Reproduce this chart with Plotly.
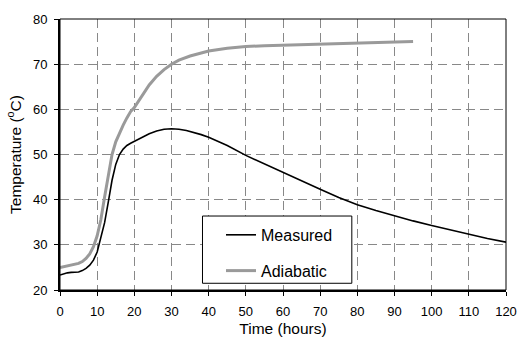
import plotly.graph_objects as go

# Measured concrete temperature (°C) against elapsed time (hours)
hours_measured = [0, 1, 2, 3, 4, 5, 6, 7, 8, 9, 10, 11, 12, 13, 14, 15, 16, 17, 18, 19, 20,
                  22, 24, 26, 28, 30, 32, 34, 36, 38, 40, 45, 50, 55, 60, 65, 70, 75, 80,
                  85, 90, 95, 100, 105, 110, 115, 120]
temp_measured = [23.3, 23.6, 23.8, 23.9, 23.9, 24.0, 24.3, 24.8, 25.5, 26.6, 28.4, 31.4, 34.9,
                 39.5, 44.3, 47.8, 50.0, 51.2, 52.0, 52.5, 52.9, 53.8, 54.6, 55.2, 55.6, 55.7,
                 55.6, 55.3, 54.9, 54.4, 53.8, 52.0, 49.8, 47.9, 46.0, 44.1, 42.3, 40.5, 38.9,
                 37.6, 36.4, 35.3, 34.3, 33.3, 32.3, 31.4, 30.6]

# Adiabatic temperature rise (°C) against elapsed time (hours)
hours_adiabatic = [0, 1, 2, 3, 4, 5, 6, 7, 8, 9, 10, 11, 12, 13, 14, 15, 16, 17, 18, 19, 20,
                   22, 24, 26, 28, 30, 32, 35, 38, 40, 45, 50, 55, 60, 65, 70, 75, 80, 85,
                   90, 95]
temp_adiabatic = [25.0, 25.2, 25.4, 25.6, 25.7, 25.9, 26.3, 27.0, 28.0, 29.6, 32.0, 35.6, 40.6,
                  45.8, 50.0, 52.8, 54.8, 56.5, 58.1, 59.5, 60.4, 62.9, 65.4, 67.3, 68.8, 70.0,
                  70.9, 71.8, 72.5, 72.9, 73.5, 73.9, 74.1, 74.2, 74.3, 74.5, 74.6, 74.7, 74.8,
                  74.9, 75.0]

x_ticks = list(range(0, 121, 10))
y_ticks = list(range(20, 81, 10))

FONT = "Liberation Sans, Arial, sans-serif"
GRID = "#888888"

fig = go.Figure()
fig.add_trace(go.Scatter(
    x=hours_measured, y=temp_measured, mode="lines", name="Measured",
    legendgroup="m", line=dict(color="black", width=1.6),
))
fig.add_trace(go.Scatter(
    x=hours_adiabatic, y=temp_adiabatic, mode="lines", name="Adiabatic",
    legendgroup="a", line=dict(color="#9a9a9a", width=3),
))

axis_common = dict(
    showline=True, linecolor="black", linewidth=2,
    ticks="outside", ticklen=4, tickcolor="black", tickwidth=1,
    showgrid=True, gridcolor=GRID, gridwidth=1, griddash="9px,5px",
    zeroline=False, tickfont=dict(family=FONT, size=13, color="black"),
)

fig.update_layout(
    width=529, height=347,
    margin=dict(l=60, r=12, t=15, b=50),
    paper_bgcolor="white", plot_bgcolor="white",
    font=dict(family=FONT, color="black"),
    xaxis=dict(
        range=[0, 120], tickvals=x_ticks, ticklabelstandoff=4,
        title=dict(text="Time (hours)", font=dict(family=FONT, size=15.5), standoff=6),
        **axis_common,
    ),
    yaxis=dict(
        range=[20, 80], tickvals=y_ticks, ticklabelstandoff=4,
        title=dict(text="Temperature (<sup>o</sup>C)", font=dict(family=FONT, size=15.5), standoff=8),
        **axis_common,
    ),
    # inner half of the cross-style tick marks
    xaxis2=dict(overlaying="x", anchor="y", range=[0, 120], tickvals=x_ticks,
                ticks="inside", ticklen=4, tickcolor="black", showticklabels=False,
                showgrid=False, showline=False, zeroline=False),
    yaxis2=dict(overlaying="y", anchor="x", range=[20, 80], tickvals=y_ticks,
                ticks="inside", ticklen=4, tickcolor="black", showticklabels=False,
                showgrid=False, showline=False, zeroline=False),
    legend=dict(
        x=0.361, xanchor="left", y=0.266, yanchor="top",
        bgcolor="rgba(0,0,0,0)", borderwidth=0,
        font=dict(family=FONT, size=16, color="black"),
        tracegroupgap=12, traceorder="grouped",
    ),
    shapes=[
        # plot frame
        dict(type="rect", xref="paper", yref="paper", x0=0, x1=1, y0=0, y1=1,
             line=dict(color="black", width=1), layer="above"),
        # legend box
        dict(type="rect", xref="paper", yref="paper", x0=0.3195, x1=0.6543, y0=0.0248, y1=0.273,
             line=dict(color="black", width=1), fillcolor="white", layer="above"),
    ],
)

fig.write_html("out.html")
